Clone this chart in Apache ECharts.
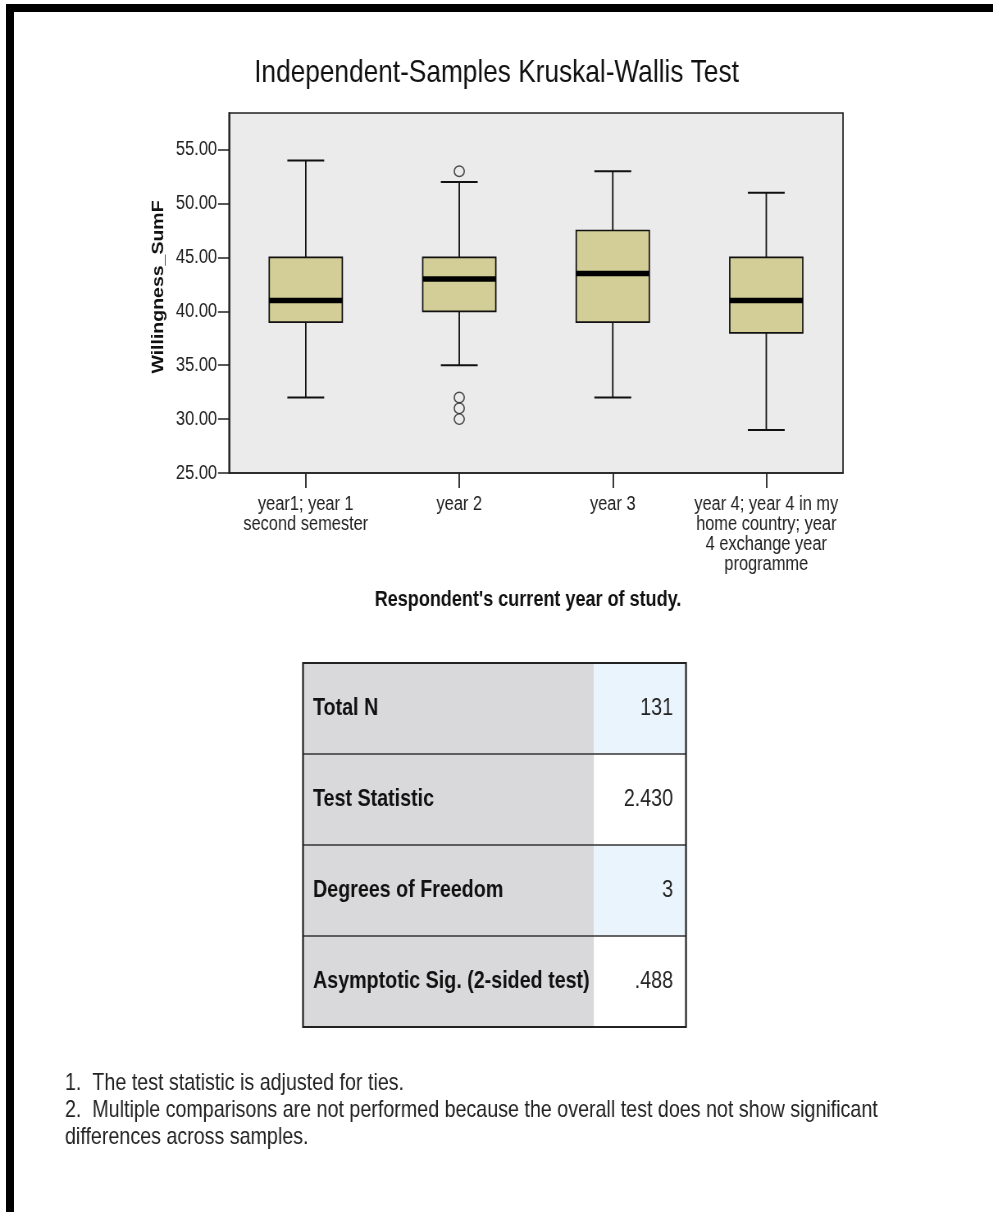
<!DOCTYPE html>
<html>
<head>
<meta charset="utf-8">
<script src="https://cdn.jsdelivr.net/npm/echarts@6/dist/echarts.min.js"></script>
<style>
html, body { margin: 0; padding: 0; background: #fff; width: 993px; height: 1212px; overflow: hidden; }
#frame { position: absolute; left: 6px; top: 4px; width: 1000px; height: 1220px; border-top: 8px solid #000; border-left: 8px solid #000; box-sizing: border-box; }
/* the original picture is horizontally condensed: draw wider, then squeeze */
#chart { position: absolute; left: 0; top: 0; width: 1211px; height: 1212px; transform: scaleX(0.82); transform-origin: 0 0; }
</style>
</head>
<body>
<div id="frame"></div>
<div id="chart"></div>
<script>
// ---- data ----
const categories = [
  'year1; year 1\nsecond semester',
  'year 2',
  'year 3',
  'year 4; year 4 in my\nhome country; year\n4 exchange year\nprogramme'
];
const lowWhisker = [32, 35, 32, 29];
const q1 = [39, 40, 39, 38];
const median = [41, 43, 43.5, 41];
const q3 = [45, 45, 47.5, 45];
const highWhisker = [54, 52, 53, 51];
const outlierCategory = [1, 1, 1, 1];
const outlierValues = [53, 32, 31, 30];
const yTicks = [25, 30, 35, 40, 45, 50, 55];
const tableLabels = ['Total N', 'Test Statistic', 'Degrees of Freedom', 'Asymptotic Sig. (2-sided test)'];
const tableValues = ['131', '2.430', '3', '.488'];
const footnotes = [
  '1.  The test statistic is adjusted for ties.',
  '2.  Multiple comparisons are not performed because the overall test does not show significant',
  'differences across samples.'
];

const S = 0.82; // horizontal squeeze applied by CSS
const FONT = '"Liberation Sans", Arial, sans-serif';

const boxData = categories.map((c, i) => [i, lowWhisker[i], q1[i], median[i], q3[i], highWhisker[i]]);
const outlierData = outlierValues.map((v, i) => [outlierCategory[i], v]);

function renderBox(params, api) {
  const i = api.value(0);
  const pLow = api.coord([i, api.value(1)]);
  const pQ1 = api.coord([i, api.value(2)]);
  const pMed = api.coord([i, api.value(3)]);
  const pQ3 = api.coord([i, api.value(4)]);
  const pHigh = api.coord([i, api.value(5)]);
  const band = api.size([1, 0])[0];
  const half = band * 0.238;
  const cap = band * 0.12;
  const x = pMed[0];
  const vs = { stroke: '#111', lineWidth: 1.8 };
  return {
    type: 'group',
    children: [
      { type: 'line', shape: { x1: x, y1: pQ3[1], x2: x, y2: pHigh[1] }, style: vs },
      { type: 'line', shape: { x1: x, y1: pQ1[1], x2: x, y2: pLow[1] }, style: vs },
      { type: 'line', shape: { x1: x - cap, y1: pHigh[1], x2: x + cap, y2: pHigh[1] }, style: { stroke: '#111', lineWidth: 2 } },
      { type: 'line', shape: { x1: x - cap, y1: pLow[1], x2: x + cap, y2: pLow[1] }, style: { stroke: '#111', lineWidth: 2 } },
      { type: 'rect', shape: { x: x - half, y: pQ3[1], width: half * 2, height: pQ1[1] - pQ3[1] }, style: { fill: '#d3ce97', stroke: '#111', lineWidth: 1.7 } },
      { type: 'line', shape: { x1: x - half, y1: pMed[1], x2: x + half, y2: pMed[1] }, style: { stroke: '#000', lineWidth: 5.5 } }
    ]
  };
}

// table + footnotes (positions in unsqueezed coordinates)
const T = { left: 303 / S, top: 663, width: 383 / S, labelW: 291 / S, rowH: 91 };
const tableEls = [];
tableLabels.forEach((lab, r) => {
  const y = T.top + r * T.rowH;
  tableEls.push({ type: 'rect', shape: { x: T.left, y: y, width: T.labelW, height: T.rowH }, style: { fill: '#d9d9db' } });
  tableEls.push({ type: 'rect', shape: { x: T.left + T.labelW, y: y, width: T.width - T.labelW, height: T.rowH }, style: { fill: r % 2 === 0 ? '#eaf4fd' : '#ffffff' } });
  tableEls.push({ type: 'text', x: T.left + 10 / S, y: y + T.rowH / 2, style: { text: lab, font: 'bold 24px ' + FONT, fill: '#111', verticalAlign: 'middle', textAlign: 'left' } });
  tableEls.push({ type: 'text', x: T.left + T.width - 13 / S, y: y + T.rowH / 2, style: { text: tableValues[r], font: '24px ' + FONT, fill: '#222', verticalAlign: 'middle', textAlign: 'right' } });
  if (r > 0) {
    tableEls.push({ type: 'line', shape: { x1: T.left, y1: y, x2: T.left + T.width, y2: y }, style: { stroke: '#333', lineWidth: 1.5 } });
  }
});
tableEls.push({ type: 'rect', shape: { x: T.left, y: T.top, width: T.width, height: T.rowH * tableLabels.length }, style: { fill: 'none', stroke: '#222', lineWidth: 2.2 } });
tableEls.push({ type: 'text', x: 65 / S, y: 1070, style: { text: footnotes.join('\n'), font: '24px ' + FONT, lineHeight: 27, fill: '#222', textAlign: 'left', verticalAlign: 'top' } });

const chart = echarts.init(document.getElementById('chart'), null, { renderer: 'canvas' });
chart.setOption({
  animation: false,
  backgroundColor: 'transparent',
  title: {
    text: 'Independent-Samples Kruskal-Wallis Test',
    left: 'center',
    top: 52,
    textStyle: { fontFamily: FONT, fontSize: 32, fontWeight: 'normal', color: '#111' }
  },
  grid: {
    left: 229 / S, right: 150 / S, top: 113, bottom: 739,
    show: true, backgroundColor: '#ebebeb', borderColor: '#222', borderWidth: 1.7,
    outerBoundsMode: 'none', containLabel: false
  },
  xAxis: {
    type: 'category',
    data: categories,
    boundaryGap: true,
    name: "Respondent's current year of study.",
    nameLocation: 'middle',
    nameGap: 116,
    nameTextStyle: { fontFamily: FONT, fontSize: 22, fontWeight: 'bold', color: '#111', verticalAlign: 'top', padding: [0, 16 / S, 0, 0] },
    axisLine: { lineStyle: { color: '#222', width: 1.7 } },
    axisTick: { show: true, alignWithLabel: true, length: 15, lineStyle: { color: '#222', width: 1.8 } },
    axisLabel: { fontFamily: FONT, fontSize: 20, lineHeight: 20, color: '#222', margin: 21, interval: 0 },
    splitLine: { show: false }
  },
  yAxis: {
    type: 'value',
    min: 25,
    max: 58.4,
    name: 'Willingness_SumF',
    nameLocation: 'middle',
    nameGap: 61 / S,
    nameRotate: 90,
    nameTextStyle: { fontFamily: FONT, fontSize: 19.5, fontWeight: 'bold', color: '#111', padding: [0, 0, 0, 12] },
    axisLine: { show: true, lineStyle: { color: '#222', width: 1.8 } },
    axisTick: { show: true, length: 11 / S, customValues: yTicks, lineStyle: { color: '#222', width: 1.5 } },
    axisLabel: { customValues: yTicks, fontFamily: FONT, fontSize: 20, color: '#222', margin: 12 / S, formatter: v => Number(v).toFixed(2) },
    splitLine: { show: false }
  },
  series: [
    {
      type: 'custom',
      renderItem: renderBox,
      data: boxData,
      encode: { x: 0, y: [1, 2, 3, 4, 5] },
      z: 3
    },
    {
      type: 'scatter',
      data: outlierData,
      symbol: 'circle',
      symbolSize: [10 / S, 10.5],
      itemStyle: { color: 'rgba(0,0,0,0)', borderColor: '#222', borderWidth: 1.5 },
      z: 4
    }
  ],
  graphic: { elements: tableEls }
});
</script>
</body>
</html>
